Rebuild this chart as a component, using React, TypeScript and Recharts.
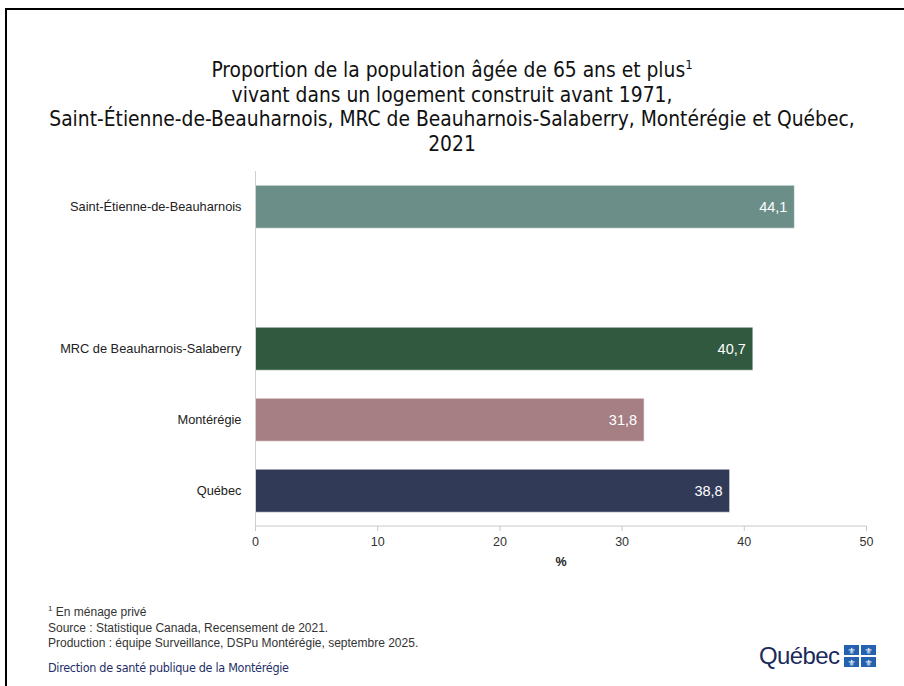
import React from "react";
import {
  Bar,
  BarChart,
  Cell,
  LabelList,
  XAxis,
  YAxis,
} from "recharts";

const categories = [
  "Saint-Étienne-de-Beauharnois",
  "",
  "MRC de Beauharnois-Salaberry",
  "Montérégie",
  "Québec",
];
const values: (number | null)[] = [44.1, null, 40.7, 31.8, 38.8];
const barColors = ["#6b8f88", "#ffffff", "#31593f", "#a67f84", "#313a57"];
const xTicks = [0, 10, 20, 30, 40, 50];

const titleLines = [
  "vivant dans un logement construit avant 1971,",
  "Saint-Étienne-de-Beauharnois, MRC de Beauharnois-Salaberry, Montérégie et Québec,",
  "2021",
];
const notes = [
  "Source : Statistique Canada, Recensement de 2021.",
  "Production : équipe Surveillance, DSPu Montérégie, septembre 2025.",
];

const data = categories.map((name, i) => ({ name, value: values[i] }));

const narrow = '"Liberation Sans Narrow", "DejaVu Sans Condensed", "Liberation Sans", sans-serif';
const sans = '"Liberation Sans", Arial, sans-serif';

const fmt = (v: any) => (v == null ? "" : String(Number(v).toFixed(1)).replace(".", ","));

const QuebecLogo = () => (
  <div style={{ position: "absolute", left: 759, top: 642, display: "flex", alignItems: "center" }}>
    <span style={{ fontFamily: sans, fontSize: 24, color: "#1c2a5c", letterSpacing: -0.6 }}>Québec</span>
    <svg width={36} height={24} style={{ marginLeft: 3 }}>
      {[0, 1].map((r) =>
        [0, 1].map((c) => (
          <g key={`${r}-${c}`}>
            <rect x={2 + c * 17} y={1 + r * 12} width={15} height={10} fill="#2462b0" />
            <text
              x={9.5 + c * 17}
              y={9.5 + r * 12}
              textAnchor="middle"
              fontSize={9}
              fill="#fff"
              fontFamily="DejaVu Sans"
            >
              ⚜
            </text>
          </g>
        ))
      )}
    </svg>
  </div>
);

export default function App() {
  return (
    <div
      style={{
        position: "absolute",
        left: 0,
        top: 0,
        width: 904,
        height: 686,
        overflow: "hidden",
        background: "#fff",
      }}
    >
      <div
        style={{
          position: "absolute",
          left: 5,
          top: 8,
          width: 1000,
          height: 1000,
          border: "2.5px solid #000",
        }}
      />
      <div
        style={{
          position: "absolute",
          left: 0,
          top: 58,
          width: 904,
          textAlign: "center",
          fontFamily: narrow,
          fontSize: 20.8,
          lineHeight: "24.7px",
          color: "#111",
        }}
      >
        <div>
          Proportion de la population âgée de 65 ans et plus
          <sup style={{ fontSize: 13, lineHeight: 0 }}>1</sup>
        </div>
        {titleLines.map((t) => (
          <div key={t}>{t}</div>
        ))}
      </div>

      <div style={{ position: "absolute", left: 0, top: 0 }}>
        <BarChart
          width={904}
          height={686}
          data={data}
          layout="vertical"
          margin={{ top: 171, right: 37.5, left: 6, bottom: 120 }}
          barCategoryGap="20%"
        >
          <XAxis
            type="number"
            domain={[0, 50]}
            ticks={xTicks}
            height={40}
            stroke="#c8c8c8"
            tickSize={5}
            tickMargin={6}
            tick={{ fontSize: 12.5, fill: "#333", fontFamily: sans }}
            label={{
              value: "%",
              position: "insideBottom",
              offset: 0,
              fill: "#222",
              fontSize: 12.5,
              fontWeight: "bold",
              fontFamily: sans,
            }}
          />
          <YAxis
            type="category"
            dataKey="name"
            width={249.5}
            stroke="#d0d0d0"
            tickLine={false}
            tickSize={6}
            tickMargin={8}
            interval={0}
            tick={{ fontSize: 12.8, fill: "#222", fontFamily: sans }}
          />
          <Bar
            dataKey="value"
            isAnimationActive={false}
            stroke="#ffffff"
            strokeOpacity={0.55}
            strokeWidth={1}
          >
            {data.map((d, i) => (
              <Cell key={i} fill={barColors[i]} />
            ))}
            <LabelList
              dataKey="value"
              position="insideRight"
              offset={7}
              formatter={fmt}
              fill="#fff"
              fontSize={14.5}
              fontFamily={sans}
            />
          </Bar>
        </BarChart>
      </div>

      <div
        style={{
          position: "absolute",
          left: 48,
          top: 605,
          fontFamily: sans,
          fontSize: 12,
          lineHeight: "15.5px",
          color: "#333",
        }}
      >
        <div>
          <sup style={{ fontSize: 8, lineHeight: 0 }}>1</sup> En ménage privé
        </div>
        {notes.map((n) => (
          <div key={n}>{n}</div>
        ))}
      </div>
      <div
        style={{
          position: "absolute",
          left: 48,
          top: 660,
          fontFamily: narrow,
          fontSize: 12.5,
          color: "#1f2f66",
          letterSpacing: -0.3,
        }}
      >
        Direction de santé publique de la Montérégie
      </div>
      <QuebecLogo />
    </div>
  );
}
